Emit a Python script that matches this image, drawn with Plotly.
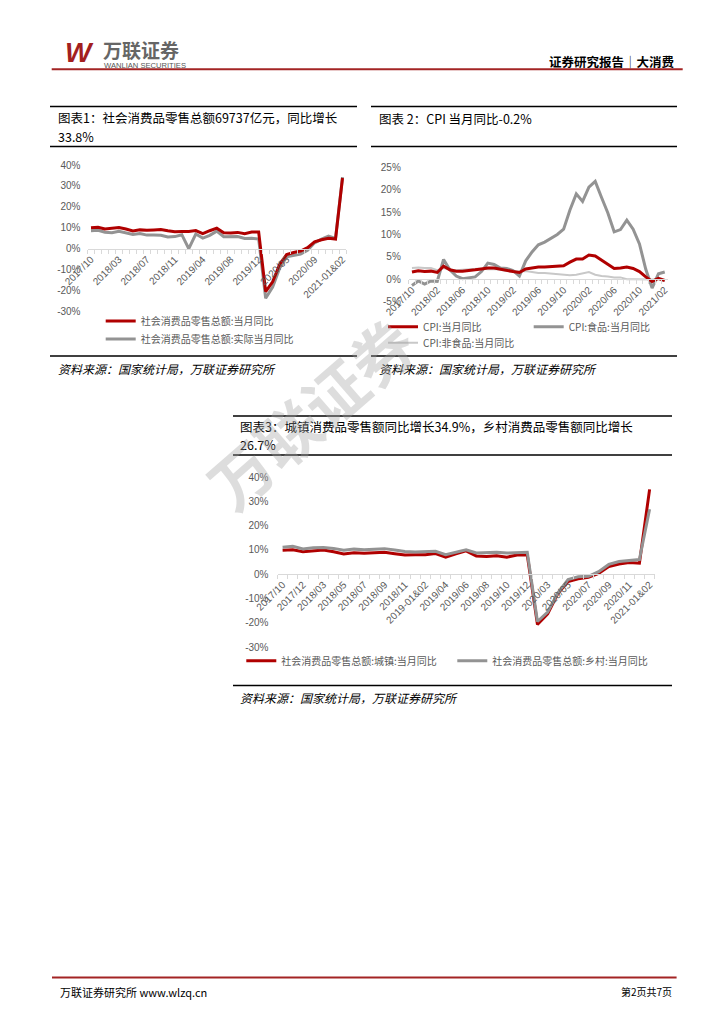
import plotly.graph_objects as go

# the page body adds an 8px margin around the figure; lay out in page pixels
OFF = 8
W, H = 724 - OFF, 1024 - OFF


def px(x):
    return (x - OFF) / W


def py(y):
    return 1 - (y - OFF) / H


# ---------------- data ----------------
retail_cats = ["2017/10", "2017/11", "2017/12", "2018-01&02", "2018/03", "2018/04", "2018/05", "2018/06",
               "2018/07", "2018/08", "2018/09", "2018/10", "2018/11", "2018/12", "2019-01&02", "2019/03",
               "2019/04", "2019/05", "2019/06", "2019/07", "2019/08", "2019/09", "2019/10", "2019/11",
               "2019/12", "2020-01&02", "2020/03", "2020/04", "2020/05", "2020/06", "2020/07", "2020/08",
               "2020/09", "2020/10", "2020/11", "2020/12", "2021-01&02"]
retail_nominal = [10.0, 10.2, 9.4, 9.7, 10.1, 9.4, 8.5, 9.0, 8.8, 9.0, 9.2, 8.6, 8.1, 8.2, 8.2, 8.7, 7.2, 8.6,
                  9.8, 7.6, 7.5, 7.8, 7.2, 8.0, 8.0, -20.5, -15.8, -7.5, -2.8, -1.8, -1.1, 0.5, 3.3, 4.3, 5.0,
                  4.6, 33.8]
retail_real = [8.6, 8.8, 7.9, 7.6, 8.3, 7.6, 6.8, 7.3, 6.5, 6.6, 6.4, 5.6, 5.8, 6.7, 0.0, 7.0, 5.1, 6.4, 8.4,
               5.7, 5.8, 5.8, 4.9, 5.0, 4.6, -23.7, -18.3, -9.3, -3.9, -3.3, -2.5, -0.8, 2.8, 4.6, 6.0, 4.9,
               34.2]

cpi_cats = ["2017/10", "2017/11", "2017/12", "2018/01", "2018/02", "2018/03", "2018/04", "2018/05", "2018/06",
            "2018/07", "2018/08", "2018/09", "2018/10", "2018/11", "2018/12", "2019/01", "2019/02", "2019/03",
            "2019/04", "2019/05", "2019/06", "2019/07", "2019/08", "2019/09", "2019/10", "2019/11", "2019/12",
            "2020/01", "2020/02", "2020/03", "2020/04", "2020/05", "2020/06", "2020/07", "2020/08", "2020/09",
            "2020/10", "2020/11", "2020/12", "2021/01", "2021/02"]
cpi_total = [1.6, 1.9, 1.7, 1.8, 1.5, 2.9, 2.1, 1.8, 1.8, 1.9, 2.1, 2.3, 2.5, 2.5, 2.2, 1.9, 1.7, 1.5, 2.3, 2.5,
             2.7, 2.7, 2.8, 2.8, 3.0, 3.8, 4.5, 4.5, 5.4, 5.2, 4.3, 3.3, 2.4, 2.5, 2.7, 2.4, 1.7, 0.5, -0.5,
             0.2, -0.3]
cpi_food = [-1.4, -0.4, -1.1, -0.4, -0.5, 4.4, 2.1, 0.7, 0.1, 0.3, 0.5, 1.7, 3.6, 3.3, 2.5, 2.4, 1.9, 0.7, 4.1,
            6.1, 7.7, 8.3, 9.1, 10.0, 11.2, 15.5, 19.1, 17.4, 20.6, 21.9, 18.3, 14.8, 10.6, 11.1, 13.2, 11.2,
            7.9, 2.2, -2.0, 1.2, 1.6]
cpi_nonfood = [2.5, 2.6, 2.5, 2.5, 2.0, 2.5, 2.1, 2.0, 2.1, 2.2, 2.4, 2.4, 2.2, 2.3, 2.1, 1.8, 1.7, 1.7, 1.8,
               1.6, 1.4, 1.4, 1.3, 1.1, 1.0, 0.9, 1.0, 1.3, 1.6, 1.0, 0.7, 0.6, 0.4, 0.4, 0.0, 0.0, 0.0, 0.0,
               0.0, -0.1, -0.4]

urban = [9.8, 10.0, 9.2, 9.5, 9.9, 9.2, 8.3, 8.8, 8.6, 8.8, 9.0, 8.4, 7.9, 8.0, 8.0, 8.5, 7.0, 8.4, 9.6, 7.5,
         7.3, 7.6, 7.0, 7.9, 7.9, -20.7, -16.4, -8.0, -3.0, -1.9, -1.3, 0.3, 3.1, 4.2, 4.8, 4.5, 34.9]
rural = [11.1, 11.5, 10.4, 10.9, 11.0, 10.6, 9.8, 10.3, 10.0, 10.2, 10.5, 9.9, 9.3, 9.1, 9.1, 9.4, 8.0, 9.0,
         10.0, 8.7, 8.8, 9.0, 8.7, 9.0, 9.0, -19.5, -15.6, -7.7, -2.2, -1.1, -0.9, 1.0, 4.0, 5.2, 5.7, 6.0,
         26.7]

c1_ticks = ["40%", "30%", "20%", "10%", "0%", "-10%", "-20%", "-30%"]
c1_tickvals = [40, 30, 20, 10, 0, -10, -20, -30]
c2_ticks = ["25%", "20%", "15%", "10%", "5%", "0%", "-5%"]
c2_tickvals = [25, 20, 15, 10, 5, 0, -5]

RED = "#B00000"
GRAY = "#939393"
LGRAY = "#C8C8C8"
TXT = "#595959"
TICKFONT = dict(family="Liberation Sans, Arial", size=10, color=TXT)
CJK = "Noto Sans CJK SC"

fig = go.Figure()

# ---------------- geometry (page px) ----------------
c1x = (87.5, 346.0)
c1y = (165.0, 311.5)
c1r = (-30, 40)
c2x = (408.8, 667.9)
c2y = (167.5, 301.5)
c2r = (-5, 25)
c3x = (277.5, 654.7)
c3y = (477.0, 647.0)
c3r = (-30, 40)


def zero_pos(ypx, yr):
    d0, d1 = py(ypx[1]), py(ypx[0])
    return d0 + (0 - yr[0]) / (yr[1] - yr[0]) * (d1 - d0)


def xaxis(xpx, ypx, yr, cats, step):
    return dict(domain=[px(xpx[0]), px(xpx[1])], anchor="free", position=zero_pos(ypx, yr),
                type="category", range=[-0.5, len(cats) - 0.5],
                tickmode="array", tickvals=cats,
                ticktext=[c if i % step == 0 else "" for i, c in enumerate(cats)],
                tickangle=-45, tickfont=TICKFONT, showline=True, linecolor="#D9D9D9", linewidth=1,
                ticks="outside", ticklen=4, tickcolor="#D9D9D9", tickson="boundaries",
                showgrid=False, zeroline=False, fixedrange=True, automargin=False)


def yaxis(ypx, yr, vals, texts, standoff, anchor):
    return dict(domain=[py(ypx[1]), py(ypx[0])], range=list(yr), anchor=anchor, tickmode="array",
                tickvals=vals, ticktext=texts, tickfont=TICKFONT, showline=False, showgrid=False,
                zeroline=False, ticks="", ticklabelstandoff=standoff, fixedrange=True, automargin=False)


# ---------------- traces ----------------
fig.add_trace(go.Scatter(x=retail_cats, y=retail_real, mode="lines", name="社会消费品零售总额:实际当月同比",
                         line=dict(color=GRAY, width=3), xaxis="x", yaxis="y", legend="legend2"))
fig.add_trace(go.Scatter(x=retail_cats, y=retail_nominal, mode="lines", name="社会消费品零售总额:当月同比",
                         line=dict(color=RED, width=3), xaxis="x", yaxis="y", legend="legend"))

fig.add_trace(go.Scatter(x=cpi_cats, y=cpi_nonfood, mode="lines", name="CPI:非食品:当月同比",
                         line=dict(color=LGRAY, width=2), xaxis="x2", yaxis="y2", legend="legend5"))
fig.add_trace(go.Scatter(x=cpi_cats, y=cpi_food, mode="lines", name="CPI:食品:当月同比",
                         line=dict(color=GRAY, width=3), xaxis="x2", yaxis="y2", legend="legend4"))
fig.add_trace(go.Scatter(x=cpi_cats, y=cpi_total, mode="lines", name="CPI:当月同比",
                         line=dict(color=RED, width=3), xaxis="x2", yaxis="y2", legend="legend3"))

fig.add_trace(go.Scatter(x=retail_cats, y=urban, mode="lines", name="社会消费品零售总额:城镇:当月同比",
                         line=dict(color=RED, width=3), xaxis="x3", yaxis="y3", legend="legend6"))
fig.add_trace(go.Scatter(x=retail_cats, y=rural, mode="lines", name="社会消费品零售总额:乡村:当月同比",
                         line=dict(color=GRAY, width=3), xaxis="x3", yaxis="y3", legend="legend7"))


def leg(xline, yc):
    return dict(x=px(xline - 7), y=py(yc), xanchor="left", yanchor="middle", orientation="h",
                bgcolor="rgba(0,0,0,0)", borderwidth=0, itemwidth=30,
                font=dict(family=CJK, size=10, color=TXT), itemclick=False, itemdoubleclick=False)


# ---------------- shapes ----------------
shapes = []


def hline(x0, x1, y, color="#000000", width=1.6):
    shapes.append(dict(type="line", xref="paper", yref="paper", x0=px(x0), x1=px(x1), y0=py(y), y1=py(y),
                       line=dict(color=color, width=width)))


hline(51.7, 682.7, 69.3, color="#A32424", width=2)
for (a, b) in [(50, 357), (371, 677)]:
    hline(a, b, 106.5)
    hline(a, b, 146.5)
    hline(a, b, 356)
hline(233, 672, 416)
hline(233, 672, 455)
hline(233, 672, 685.5)
hline(52, 676.6, 977.6, color="#A32424", width=2)

# ---------------- annotations ----------------
ann = []


def text(x, y, s, size=12.5, color="#000000", anchor="left", family=CJK, **kw):
    ann.append(dict(x=px(x), y=py(y), xref="paper", yref="paper", text=s, showarrow=False,
                    xanchor=anchor, yanchor="middle", font=dict(family=family, size=size, color=color), **kw))


text(63, 52.5, "<b><i>W</i></b>", size=28, color="#A31F1F", family="Liberation Sans, Arial")
text(101, 49, "<b>万联证券</b>", size=19, color="#666666")
text(102, 65.5, "WANLIAN SECURITIES", size=7.6, color="#555555", family="Liberation Sans, Arial")
text(677, 61.3, "<b>证券研究报告│大消费</b>", size=12.5, anchor="right")

text(56, 117, "图表1：社会消费品零售总额69737亿元，同比增长", size=12.5)
text(56, 136, "33.8%", size=12.5)
text(377, 118, "图表 2：CPI 当月同比-0.2%", size=12.5)
text(238, 426.5, "图表3：城镇消费品零售额同比增长34.9%，乡村消费品零售额同比增长", size=12.5)
text(238, 444.5, "26.7%", size=12.5)

text(56, 368, "<i>资料来源：国家统计局，万联证券研究所</i>", size=12)
text(377, 368, "<i>资料来源：国家统计局，万联证券研究所</i>", size=12)
text(238, 697, "<i>资料来源：国家统计局，万联证券研究所</i>", size=12)

text(58, 992, "万联证券研究所 www.wlzq.cn", size=11)
text(674, 991.5, "第2页共7页", size=10, anchor="right")

# watermark
ann.append(dict(x=px(310), y=py(412), xref="paper", yref="paper", text="<b>万联证券</b>", showarrow=False,
                textangle=-41, xanchor="center", yanchor="middle",
                font=dict(family=CJK, size=62, color="rgba(160,160,160,0.36)")))

fig.update_layout(
    width=W, height=H, autosize=False, margin=dict(l=0, r=0, t=0, b=0, pad=0, autoexpand=False),
    paper_bgcolor="white", plot_bgcolor="rgba(0,0,0,0)",
    xaxis=xaxis(c1x, c1y, c1r, retail_cats, 4),
    yaxis=yaxis(c1y, c1r, c1_tickvals, c1_ticks, 6, "x"),
    xaxis2=xaxis(c2x, c2y, c2r, cpi_cats, 4),
    yaxis2=yaxis(c2y, c2r, c2_tickvals, c2_ticks, 7, "x2"),
    xaxis3=xaxis(c3x, c3y, c3r, retail_cats, 2),
    yaxis3=yaxis(c3y, c3r, c1_tickvals, c1_ticks, 8, "x3"),
    legend=leg(107.7, 321),
    legend2=leg(107.7, 339),
    legend3=leg(390, 326.7),
    legend4=leg(535.7, 326.7),
    legend5=leg(390, 342.7),
    legend6=leg(248.3, 660.7),
    legend7=leg(459.3, 660.7),
    shapes=shapes,
    annotations=ann,
    showlegend=True,
)

fig.write_html("out.html")
